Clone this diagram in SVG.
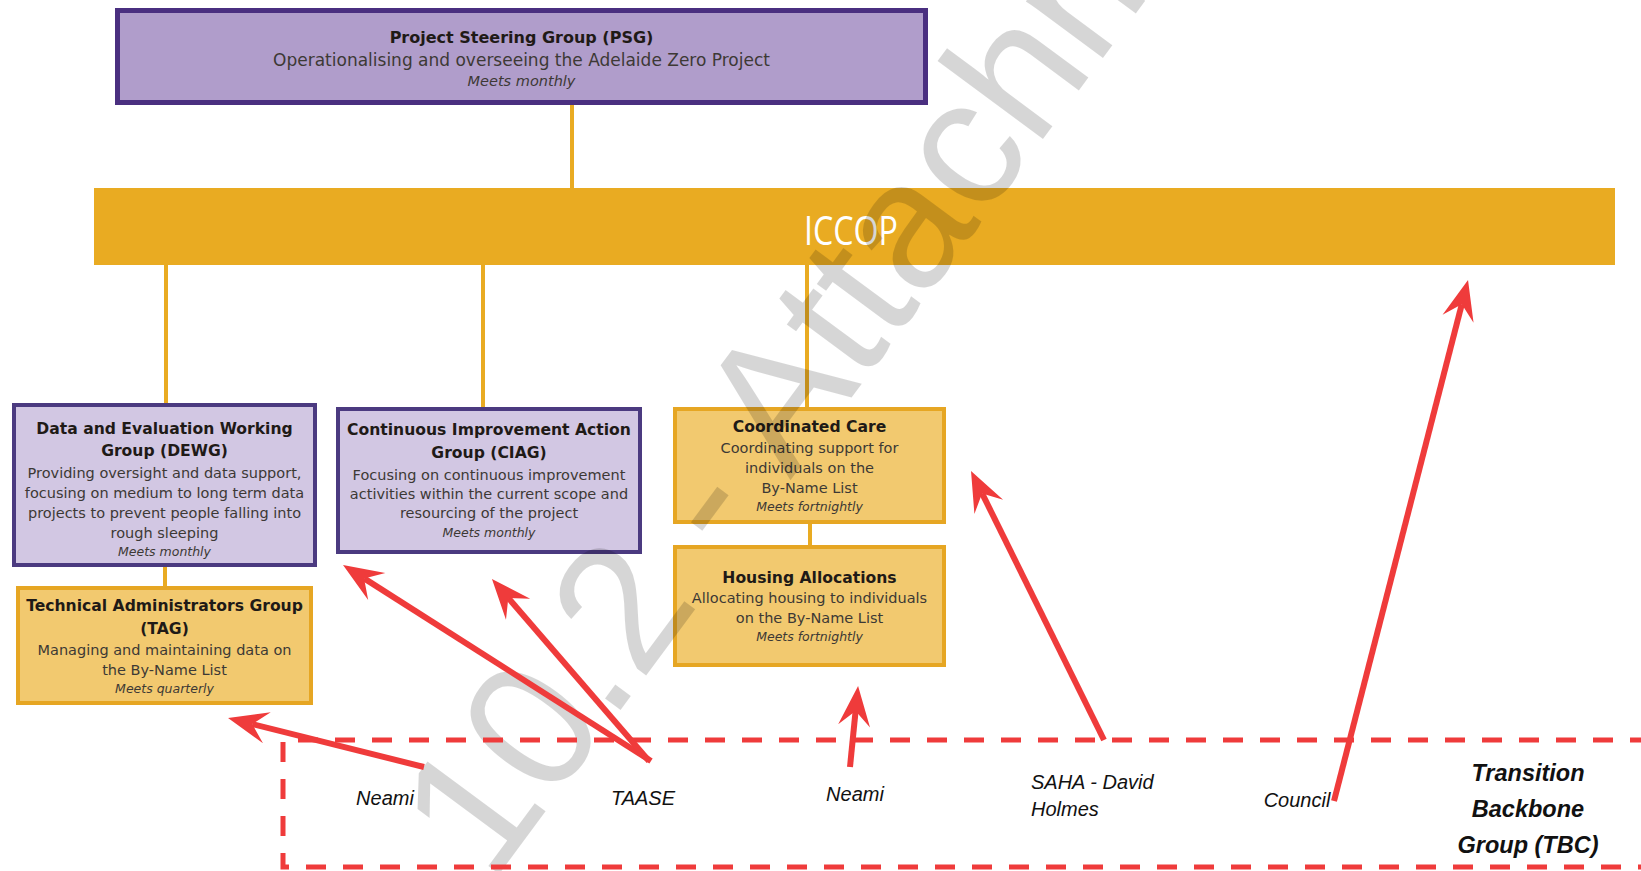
<svg xmlns="http://www.w3.org/2000/svg" width="1641" height="871" viewBox="0 0 1641 871">
<defs>
<style>
.psg{fill:#b09dcb;stroke:#4a2f80;stroke-width:5}
.pbox{fill:#d2c7e3;stroke:#4b3a80;stroke-width:4}
.gbox{fill:#f2c96f;stroke:#e6a623;stroke-width:4}
.ln{stroke:#e9ab22;stroke-width:4;fill:none}
.t{font-family:"DejaVu Sans",sans-serif;font-weight:bold;font-size:15.6px;fill:#1f1a17;text-anchor:middle}
.b{font-family:"DejaVu Sans",sans-serif;font-size:14.5px;fill:#3d3935;text-anchor:middle}
.m{font-family:"DejaVu Sans",sans-serif;font-style:italic;font-size:12.5px;fill:#3d3935;text-anchor:middle}
.arr{stroke:#ef3b3b;stroke-width:6;fill:none;marker-end:url(#ah)}
.lbl{font-family:"Liberation Sans",Arial,sans-serif;font-style:italic;font-size:20px;fill:#111}
.tbc{font-family:"Liberation Sans",Arial,sans-serif;font-style:italic;font-weight:bold;font-size:23.5px;fill:#111;text-anchor:middle}
.dash{stroke:#ef3b3b;stroke-width:5;fill:none;stroke-dasharray:20 17}
</style>
<marker id="ah" markerUnits="userSpaceOnUse" markerWidth="50" markerHeight="40" viewBox="-20 -20 50 40" refX="0" refY="0" orient="auto" overflow="visible">
<path d="M25,0 L-15,-16 L0,0 L-15,16 Z" fill="#ef3b3b"/>
</marker>
</defs>
<rect width="1641" height="871" fill="#ffffff"/>

<g id="connectors">
<line class="ln" x1="572" y1="105" x2="572" y2="190"/>
<line class="ln" x1="166" y1="263" x2="166" y2="404"/>
<line class="ln" x1="483" y1="263" x2="483" y2="408"/>
<line class="ln" x1="807" y1="263" x2="807" y2="408"/>
<line class="ln" x1="165" y1="566" x2="165" y2="587"/>
<line class="ln" x1="810" y1="523" x2="810" y2="546"/>
</g>

<g id="psg">
<rect class="psg" x="117.5" y="10.5" width="808" height="92"/>
<text class="t" x="521.5" y="43" style="font-size:16px">Project Steering Group (PSG)</text>
<text class="b" x="521.5" y="66" style="font-size:17px">Operationalising and overseeing the Adelaide Zero Project</text>
<text class="m" x="521.5" y="86" style="font-size:14.5px">Meets monthly</text>
</g>

<g id="iccop">
<rect x="94" y="188" width="1521" height="77" fill="#e9ab22"/>
<text x="851" y="245" font-family="'Open Sans',sans-serif" font-size="40" fill="#ffffff" text-anchor="middle" textLength="94" lengthAdjust="spacingAndGlyphs">ICCOP</text>
</g>

<g id="dewg">
<rect class="pbox" x="14" y="405" width="301" height="160"/>
<text class="t" x="164.5" y="434">Data and Evaluation Working</text>
<text class="t" x="164.5" y="456">Group (DEWG)</text>
<text class="b" x="164.5" y="478">Providing oversight and data support,</text>
<text class="b" x="164.5" y="498">focusing on medium to long term data</text>
<text class="b" x="164.5" y="518">projects to prevent people falling into</text>
<text class="b" x="164.5" y="538">rough sleeping</text>
<text class="m" x="164.5" y="556">Meets monthly</text>
</g>

<g id="tag">
<rect class="gbox" x="18" y="588" width="293" height="115"/>
<text class="t" x="164.5" y="611">Technical Administrators Group</text>
<text class="t" x="164.5" y="634">(TAG)</text>
<text class="b" x="164.5" y="655">Managing and maintaining data on</text>
<text class="b" x="164.5" y="675">the By-Name List</text>
<text class="m" x="164.5" y="693">Meets quarterly</text>
</g>

<g id="ciag">
<rect class="pbox" x="338" y="409" width="302" height="143"/>
<text class="t" x="489" y="435">Continuous Improvement Action</text>
<text class="t" x="489" y="458">Group (CIAG)</text>
<text class="b" x="489" y="480">Focusing on continuous improvement</text>
<text class="b" x="489" y="499">activities within the current scope and</text>
<text class="b" x="489" y="518">resourcing of the project</text>
<text class="m" x="489" y="537">Meets monthly</text>
</g>

<g id="coordinated-care">
<rect class="gbox" x="675" y="409" width="269" height="113"/>
<text class="t" x="809.5" y="432">Coordinated Care</text>
<text class="b" x="809.5" y="453">Coordinating support for</text>
<text class="b" x="809.5" y="473">individuals on the</text>
<text class="b" x="809.5" y="493">By-Name List</text>
<text class="m" x="809.5" y="511">Meets fortnightly</text>
</g>

<g id="housing-allocations">
<rect class="gbox" x="675" y="547" width="269" height="118"/>
<text class="t" x="809.5" y="583">Housing Allocations</text>
<text class="b" x="809.5" y="603">Allocating housing to individuals</text>
<text class="b" x="809.5" y="623">on the By-Name List</text>
<text class="m" x="809.5" y="641">Meets fortnightly</text>
</g>

<g id="watermark">
<text x="491" y="885" transform="rotate(-53.5 491 885)" font-family="'Liberation Sans',Arial,sans-serif" font-size="181" fill="#000000" fill-opacity="0.16">10.2 - Attachment</text>
</g>

<g id="tbc">
<path class="dash" d="M1650,740 H283 V867 H1650"/>
<text class="lbl" x="385" y="805" text-anchor="middle">Neami</text>
<text class="lbl" x="643" y="805" text-anchor="middle">TAASE</text>
<text class="lbl" x="855" y="801" text-anchor="middle">Neami</text>
<text class="lbl" x="1031" y="789">SAHA - David</text>
<text class="lbl" x="1031" y="816">Holmes</text>
<text class="lbl" x="1297" y="807" text-anchor="middle">Council</text>
<text class="tbc" x="1528" y="781">Transition</text>
<text class="tbc" x="1528" y="817">Backbone</text>
<text class="tbc" x="1528" y="853">Group (TBC)</text>
</g>

<g id="arrows">
<line class="arr" x1="424" y1="767" x2="252.3" y2="724.1"/>
<line class="arr" x1="651" y1="761" x2="364.1" y2="578.4"/>
<line class="arr" x1="649" y1="761" x2="508.3" y2="597.9"/>
<line class="arr" x1="850" y1="767" x2="855.6" y2="710.9"/>
<line class="arr" x1="1104" y1="740" x2="982.1" y2="493.4"/>
<line class="arr" x1="1334" y1="801" x2="1461.8" y2="304.2"/>
</g>
</svg>
